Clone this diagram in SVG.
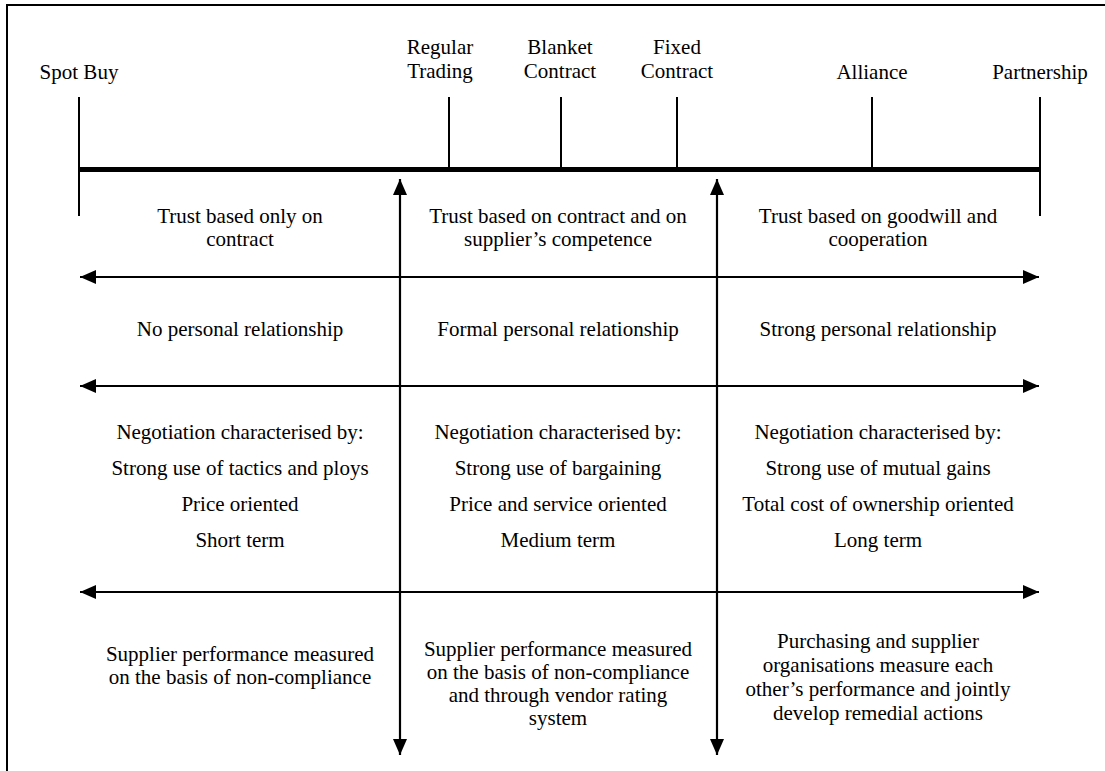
<svg xmlns="http://www.w3.org/2000/svg" width="1105" height="771" viewBox="0 0 1105 771">
  <style>
    text { font-family: "Liberation Serif", "Times New Roman", serif; font-size: 21px; fill: #000; text-anchor: middle; }
    .frame { fill: none; stroke: #000; stroke-width: 2; }
    .tick { stroke: #000; stroke-width: 2; }
    .spine { stroke: #000; stroke-width: 5; }
    .arrow { stroke: #000; stroke-width: 2.2; fill: none; }
  </style>
  <defs>
    <marker id="head" viewBox="0 0 16 14" refX="16" refY="7" markerWidth="16" markerHeight="14" markerUnits="userSpaceOnUse" orient="auto-start-reverse">
      <path d="M0,0 L16,7 L0,14 Z" fill="#000"/>
    </marker>
  </defs>

  <rect width="1105" height="771" fill="#fff"/>
  <!-- page frame (top and left edges) -->
  <path class="frame" d="M7,771 V5 H1105"/>

  <!-- relationship spectrum -->
  <g id="spectrum">
    <line class="spine" x1="79" y1="169.5" x2="1040" y2="169.5"/>
    <line class="tick" x1="79" y1="97" x2="79" y2="216"/>
    <line class="tick" x1="449" y1="97" x2="449" y2="169"/>
    <line class="tick" x1="561" y1="97" x2="561" y2="169"/>
    <line class="tick" x1="677" y1="97" x2="677" y2="169"/>
    <line class="tick" x1="872" y1="97" x2="872" y2="169"/>
    <line class="tick" x1="1040" y1="97" x2="1040" y2="216"/>
  </g>
  <g id="label-spot-buy"><text x="79" y="79">Spot Buy</text></g>
  <g id="label-regular-trading"><text x="440" y="54">Regular</text><text x="440" y="78">Trading</text></g>
  <g id="label-blanket-contract"><text x="560" y="54">Blanket</text><text x="560" y="78">Contract</text></g>
  <g id="label-fixed-contract"><text x="677" y="54">Fixed</text><text x="677" y="78">Contract</text></g>
  <g id="label-alliance"><text x="872" y="79">Alliance</text></g>
  <g id="label-partnership"><text x="1040" y="79">Partnership</text></g>

  <!-- connectors -->
  <g id="connectors">
    <line class="arrow" x1="400" y1="755" x2="400" y2="179" marker-start="url(#head)" marker-end="url(#head)"/>
    <line class="arrow" x1="717" y1="755" x2="717" y2="179" marker-start="url(#head)" marker-end="url(#head)"/>
    <line class="arrow" x1="80" y1="277" x2="1039" y2="277" marker-start="url(#head)" marker-end="url(#head)"/>
    <line class="arrow" x1="80" y1="386" x2="1039" y2="386" marker-start="url(#head)" marker-end="url(#head)"/>
    <line class="arrow" x1="80" y1="592" x2="1039" y2="592" marker-start="url(#head)" marker-end="url(#head)"/>
  </g>

  <!-- trust -->
  <g id="trust-left"><text x="240" y="223">Trust based only on</text><text x="240" y="246">contract</text></g>
  <g id="trust-middle"><text x="558" y="223">Trust based on contract and on</text><text x="558" y="246">supplier’s competence</text></g>
  <g id="trust-right"><text x="878" y="223">Trust based on goodwill and</text><text x="878" y="246">cooperation</text></g>

  <!-- personal relationship -->
  <g id="relationship-left"><text x="240" y="336">No personal relationship</text></g>
  <g id="relationship-middle"><text x="558" y="336">Formal personal relationship</text></g>
  <g id="relationship-right"><text x="878" y="336">Strong personal relationship</text></g>

  <!-- negotiation -->
  <g id="negotiation-left">
    <text x="240" y="439">Negotiation characterised by:</text>
    <text x="240" y="475">Strong use of tactics and ploys</text>
    <text x="240" y="511">Price oriented</text>
    <text x="240" y="547">Short term</text>
  </g>
  <g id="negotiation-middle">
    <text x="558" y="439">Negotiation characterised by:</text>
    <text x="558" y="475">Strong use of bargaining</text>
    <text x="558" y="511">Price and service oriented</text>
    <text x="558" y="547">Medium term</text>
  </g>
  <g id="negotiation-right">
    <text x="878" y="439">Negotiation characterised by:</text>
    <text x="878" y="475">Strong use of mutual gains</text>
    <text x="878" y="511">Total cost of ownership oriented</text>
    <text x="878" y="547">Long term</text>
  </g>

  <!-- performance measurement -->
  <g id="performance-left">
    <text x="240" y="661">Supplier performance measured</text>
    <text x="240" y="684">on the basis of non-compliance</text>
  </g>
  <g id="performance-middle">
    <text x="558" y="656">Supplier performance measured</text>
    <text x="558" y="679">on the basis of non-compliance</text>
    <text x="558" y="702">and through vendor rating</text>
    <text x="558" y="725">system</text>
  </g>
  <g id="performance-right">
    <text x="878" y="648">Purchasing and supplier</text>
    <text x="878" y="672">organisations measure each</text>
    <text x="878" y="696">other’s performance and jointly</text>
    <text x="878" y="720">develop remedial actions</text>
  </g>
</svg>
